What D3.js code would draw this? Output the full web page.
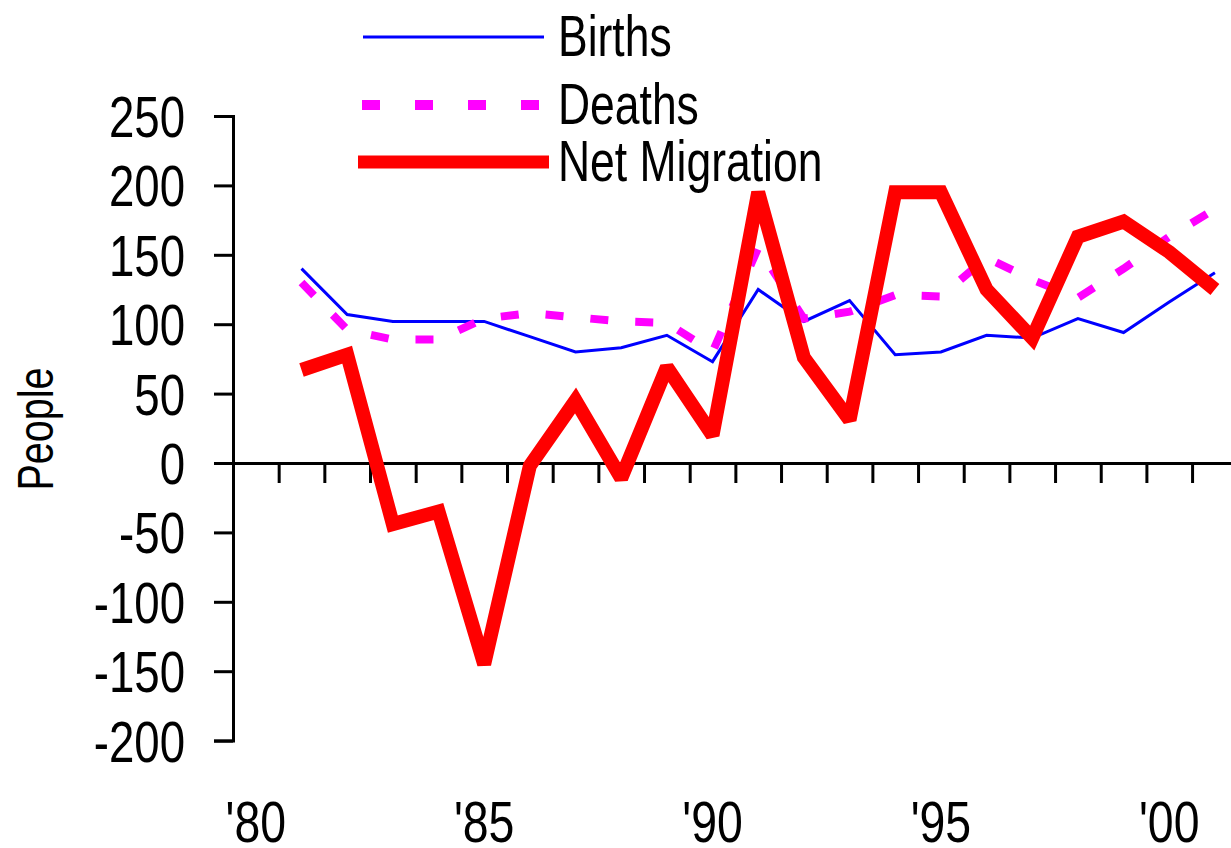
<!DOCTYPE html>
<html>
<head>
<meta charset="utf-8">
<script src="https://cdn.jsdelivr.net/npm/d3@7"></script>
<style>
  body { margin: 0; background: #fff; }
  text { font-family: "Liberation Sans Narrow", "Arial Narrow", "Liberation Sans", sans-serif; fill: #000; }
</style>
</head>
<body>
<div id="chart"></div>
<script>
var years = d3.range(1980, 2002);
var dataYears = d3.range(1981, 2002);
var births = [140, 107, 102, 102, 102, 91, 80, 83, 92, 73, 125, 102, 117, 78, 80, 92, 90, 104, 94, 116, 137];
var deaths = [130, 96, 89, 89, 104, 108, 105, 102, 101, 80, 155, 104, 109, 121, 120, 148, 132, 119, 140, 163, 183];
var netMigration = [67, 78, -44, -35, -145, -2, 45, -11, 69, 20, 195, 76, 31, 195, 195, 125, 90, 163, 174, 152, 125];
var yTicks = [250, 200, 150, 100, 50, 0, -50, -100, -150, -200];
var labelYears = [1980, 1985, 1990, 1995, 2000];

function init(){
    var w = 1231;
    var h = 848;
    var squeeze = 0.8; // fonts here are not narrow, so squash them sideways

    var svg = d3.select("#chart")
      .append("svg")
      .attr("width", w)
      .attr("height", h);

    var xScale = d3.scaleBand()
      .domain(years)
      .range([233, 233 + 22 * 45.67]);

    var yScale = d3.scaleLinear()
      .domain([-200, 250])
      .range([740.6, 116]);

    var cx = function(d, i){ return xScale(dataYears[i]) + xScale.bandwidth() / 2; };

    // y axis
    var yAxis = d3.axisLeft(yScale)
      .tickValues(yTicks)
      .tickSize(19)
      .tickPadding(30)
      .tickFormat(function(d){ return String(d); });

    var gy = svg.append("g")
      .attr("transform", "translate(233,0)")
      .call(yAxis);
    gy.select(".domain").attr("stroke", "#000").attr("stroke-width", 3);
    gy.selectAll(".tick line").attr("stroke", "#000").attr("stroke-width", 3);
    gy.selectAll(".tick text")
      .attr("font-size", 57)
      .attr("dy", "0.36em")
      .attr("x", -48 / squeeze)
      .attr("transform", "scale(" + squeeze + ",1)");

    // x axis along zero, ticks on band boundaries
    var xAxis = d3.axisBottom(d3.scaleLinear().domain([0, 22]).range(xScale.range()))
      .tickValues(d3.range(1, 22))
      .tickSize(20)
      .tickSizeOuter(0)
      .tickFormat("");

    var gx = svg.append("g")
      .attr("transform", "translate(0," + yScale(0) + ")")
      .call(xAxis);
    gx.select(".domain").attr("stroke", "#000").attr("stroke-width", 3);
    gx.selectAll(".tick line").attr("stroke", "#000").attr("stroke-width", 3);

    // year labels at the bottom
    svg.selectAll(".yearLabel")
      .data(labelYears)
      .enter()
      .append("text")
      .attr("class", "yearLabel")
      .attr("transform", function(d){
        return "translate(" + (xScale(d) + xScale.bandwidth() / 2) + ",842) scale(" + squeeze + ",1)";
      })
      .attr("text-anchor", "middle")
      .attr("font-size", 58)
      .text(function(d){ return "'" + String(d).slice(2); });

    // y label
    svg.append("text")
      .attr("transform", "translate(53,429) rotate(-90) scale(0.79,1)")
      .attr("text-anchor", "middle")
      .attr("font-size", 50)
      .text("People");

    var line = d3.line()
      .x(cx)
      .y(function(d){ return yScale(d); });

    svg.append("path")
      .datum(births)
      .attr("d", line)
      .attr("fill", "none")
      .attr("stroke", "#0000ff")
      .attr("stroke-width", 3);

    svg.append("path")
      .datum(deaths)
      .attr("d", line)
      .attr("fill", "none")
      .attr("stroke", "#ff00ff")
      .attr("stroke-width", 8)
      .attr("stroke-dasharray", "18,27");

    svg.append("path")
      .datum(netMigration)
      .attr("d", line)
      .attr("fill", "none")
      .attr("stroke", "#ff0000")
      .attr("stroke-width", 14)
      .attr("stroke-linejoin", "miter")
      .attr("stroke-miterlimit", 2);

    // legend
    var legend = [
      {name: "Births", color: "#0000ff", width: 3, dash: null, y: 37, x1: 363, x2: 544},
      {name: "Deaths", color: "#ff00ff", width: 10, dash: "18,35", y: 105, x1: 362, x2: 540},
      {name: "Net Migration", color: "#ff0000", width: 13, dash: null, y: 162, x1: 358, x2: 549}
    ];

    var lg = svg.selectAll(".legend")
      .data(legend)
      .enter()
      .append("g")
      .attr("class", "legend");

    lg.append("line")
      .attr("x1", function(d){ return d.x1; })
      .attr("x2", function(d){ return d.x2; })
      .attr("y1", function(d){ return d.y; })
      .attr("y2", function(d){ return d.y; })
      .attr("stroke", function(d){ return d.color; })
      .attr("stroke-width", function(d){ return d.width; })
      .attr("stroke-dasharray", function(d){ return d.dash; });

    lg.append("text")
      .attr("transform", function(d){ return "translate(558," + (d.y + 19) + ") scale(0.78,1)"; })
      .attr("font-size", 57)
      .text(function(d){ return d.name; });
}

window.onload = init;
</script>
</body>
</html>
